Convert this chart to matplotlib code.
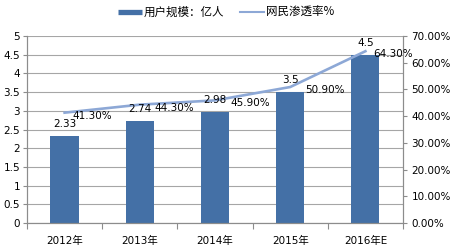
import numpy as np
import matplotlib
matplotlib.use("Agg")
import matplotlib.pyplot as plt
from matplotlib.lines import Line2D

plt.rcParams["font.family"] = ["DejaVu Sans", "Noto Sans CJK SC"]

# data
years = ["2012年", "2013年", "2014年", "2015年", "2016年E"]
users = [2.33, 2.74, 2.98, 3.5, 4.5]           # 用户规模：亿人
penetration = [41.3, 44.3, 45.9, 50.9, 64.3]   # 网民渗透率%
bar_labels = ["2.33", "2.74", "2.98", "3.5", "4.5"]

bar_color = "#4470A6"
line_color = "#8DA8D6"
grid_color = "#A6A6A6"
axis_color = "#8C8C8C"

fig = plt.figure(figsize=(4.54, 2.46), dpi=100)
ax = fig.add_axes([27 / 454, 23 / 246, 376 / 454, 187 / 246])
ax2 = ax.twinx()

x = np.arange(len(years))
ax.bar(x, users, width=0.375, color=bar_color, zorder=2)
ax.set_xlim(-0.5, len(years) - 0.5)
ax.set_ylim(0, 5)
ax.set_yticks(np.arange(0, 5.01, 0.5))
ax.set_yticklabels(["%g" % v for v in np.arange(0, 5.01, 0.5)])
ax.yaxis.grid(True, color=grid_color, lw=0.8)
ax.set_axisbelow(True)

# x ticks between categories, labels at category centres
ax.set_xticks(np.arange(-0.5, len(years)), labels=[])
ax.set_xticks(x, labels=years, minor=True)
ax.tick_params(axis="x", which="major", length=4, color=axis_color)
ax.tick_params(axis="x", which="minor", length=0, pad=9, labelsize=7.5)
ax.tick_params(axis="y", length=3, color=axis_color, labelsize=7.5, pad=2)

ax2.plot(x, penetration, color=line_color, lw=1.9, zorder=3)
ax2.set_ylim(0, 70)
ax2.set_yticks(np.arange(0, 71, 10))
ax2.set_yticklabels(["%.2f%%" % v for v in np.arange(0, 71, 10)])
ax2.tick_params(axis="y", length=3, color=axis_color, labelsize=7.5, pad=3)

for a in (ax, ax2):
    a.spines["top"].set_visible(False)
    for s in ("left", "right", "bottom"):
        a.spines[s].set_color(axis_color)
        a.spines[s].set_linewidth(0.8)

# data labels
for i, v in enumerate(users):
    ax2.annotate(bar_labels[i], xy=(i, v), xycoords=ax.transData,
                 xytext=(0, 7), textcoords="offset pixels",
                 ha="center", va="bottom", fontsize=7.5, zorder=5)
for i, p in enumerate(penetration):
    off = 15 if 0 < i < len(penetration) - 1 else 8
    ax2.annotate("%.2f%%" % p, xy=(i, p), xytext=(off, -3),
                 textcoords="offset pixels", ha="left", va="center",
                 fontsize=7.5, zorder=5)

handles = [Line2D([], [], color=bar_color, lw=3.8, solid_capstyle="butt"),
           Line2D([], [], color=line_color, lw=1.5)]
fig.legend(handles, ["用户规模：亿人", "网民渗透率%"], loc="center",
           bbox_to_anchor=(0.498, 0.95), ncol=2, frameon=False,
           prop={"family": ["Noto Sans CJK SC", "DejaVu Sans"], "size": 8.3},
           handlelength=2.1, handletextpad=0.15, columnspacing=1.4,
           borderpad=0, borderaxespad=0)

fig.savefig("out.png", dpi=100)
